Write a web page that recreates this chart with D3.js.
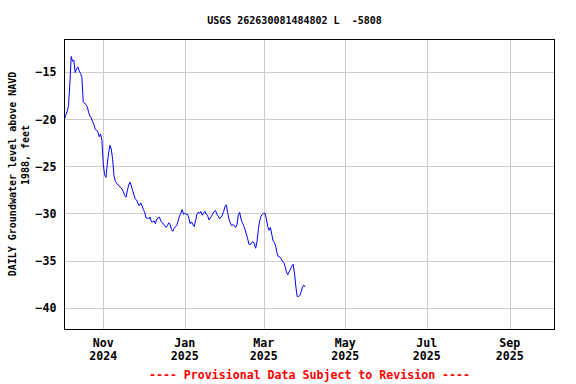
<!DOCTYPE html>
<html>
<head>
<meta charset="utf-8">
<script src="https://cdn.jsdelivr.net/npm/d3@7"></script>
<style>
  body { margin: 0; background: #fff; }
  svg text { font-family: "DejaVu Sans Mono", "Liberation Mono", monospace; font-weight: bold; white-space: pre; }
</style>
</head>
<body>
<div id="chart"></div>
<script>
// daily water level readings, first one on Oct 3 2024
var startDate = new Date(2024, 9, 3);
var levels = [
  -20.0, -19.6, -19.2, -18.6, -16.3, -13.4, -13.9, -13.8, -15.1, -14.7,
  -14.5, -14.9, -15.2, -15.6, -18.2, -18.3, -18.5, -18.7, -19.3, -19.7,
  -19.9, -20.3, -20.6, -21.1, -21.2, -21.4, -21.9, -21.6, -22.3, -24.8,
  -25.9, -26.2, -24.8, -23.6, -22.8, -23.2, -24.3, -26.0, -26.6, -26.8,
  -27.0, -27.1, -27.3, -27.4, -27.7, -28.1, -28.3, -27.6, -27.0, -26.7,
  -27.1, -27.6, -28.1, -28.5, -28.6, -29.0, -29.2, -28.9, -29.2, -29.6,
  -29.9, -30.5, -30.5, -30.6, -30.4, -30.9, -30.9, -30.8, -31.1, -30.6,
  -30.5, -30.4, -30.8, -31.0, -31.1, -31.3, -31.5, -31.3, -31.0, -31.2,
  -31.7, -31.9, -31.6, -31.4, -31.3, -30.8, -30.3, -30.0, -29.6, -30.1,
  -30.0, -30.1, -30.1, -30.5, -31.1, -30.9, -31.2, -31.4, -30.8, -30.1,
  -29.9, -30.0, -29.8, -30.2, -30.0, -29.8, -30.1, -30.2, -30.7, -30.5,
  -30.3, -30.0, -29.8, -29.7, -30.1, -30.3, -30.6, -30.4, -30.2, -29.8,
  -29.3, -29.1, -29.9, -30.6, -31.0, -31.3, -31.2, -31.3, -31.5, -31.2,
  -30.2, -29.9, -30.6, -31.0, -31.3, -31.7, -32.2, -32.7, -33.3, -33.3,
  -33.1, -33.0, -33.2, -33.7, -33.0, -31.7, -30.8, -30.3, -30.1, -30.0,
  -30.0, -30.6, -31.4, -31.8, -31.5, -32.2, -32.9, -33.1, -33.5, -34.2,
  -34.6, -34.6, -34.8, -35.1, -35.2, -35.6, -36.2, -36.5, -36.2, -35.9,
  -35.6, -35.4, -36.3, -37.7, -38.8, -38.8, -38.7, -38.3, -37.8, -37.6,
  -37.8
];

var yTicks = [-40, -35, -30, -25, -20, -15];
var yDomain = [-42.3, -11.6];
var xDomain = [new Date(2024, 9, 3), new Date(2025, 9, 4, 12)];

var titleText = "USGS 262630081484802 L  -5808";
var yLabelLines = ["DAILY Groundwater level above NAVD", "1988, feet"];
var noteText = "---- Provisional Data Subject to Revision ----";

var width = 576;
var height = 384;
var margin = { top: 39.5, right: 21.5, bottom: 54.5, left: 64.5 };

var data = levels.map(function(v, i) {
  return { date: d3.timeDay.offset(startDate, i), value: v };
});

var svg = d3.select("#chart")
  .append("svg")
  .attr("width", width)
  .attr("height", height);

var x = d3.scaleTime()
  .domain(xDomain)
  .range([margin.left, width - margin.right]);

var y = d3.scaleLinear()
  .domain(yDomain)
  .range([height - margin.bottom, margin.top]);

var monthTicks = d3.timeMonth.every(2).range(xDomain[0], xDomain[1]);

// grid lines
svg.append("g")
  .selectAll("line")
  .data(monthTicks)
  .enter().append("line")
  .attr("x1", function(d) { return Math.round(x(d)) + 0.5; })
  .attr("x2", function(d) { return Math.round(x(d)) + 0.5; })
  .attr("y1", margin.top)
  .attr("y2", height - margin.bottom)
  .attr("stroke", "#cccccc")
  .attr("stroke-width", 1);

svg.append("g")
  .selectAll("line")
  .data(yTicks)
  .enter().append("line")
  .attr("x1", margin.left)
  .attr("x2", width - margin.right)
  .attr("y1", function(d) { return Math.round(y(d)) + 0.5; })
  .attr("y2", function(d) { return Math.round(y(d)) + 0.5; })
  .attr("stroke", "#cccccc")
  .attr("stroke-width", 1);

// the water level line
var line = d3.line()
  .x(function(d) { return x(d.date); })
  .y(function(d) { return y(d.value); });

svg.append("path")
  .datum(data)
  .attr("d", line)
  .attr("fill", "none")
  .attr("stroke", "#0000ff")
  .attr("stroke-width", 1);

// plot frame
svg.append("rect")
  .attr("x", margin.left)
  .attr("y", margin.top)
  .attr("width", width - margin.left - margin.right)
  .attr("height", height - margin.top - margin.bottom)
  .attr("fill", "none")
  .attr("stroke", "#000")
  .attr("stroke-width", 1);

// y axis labels
var yAxis = svg.append("g")
  .attr("transform", "translate(" + (margin.left - 8) + ",0)")
  .call(d3.axisLeft(y).tickValues(yTicks).tickSize(0).tickPadding(0).tickFormat(d3.format("d")));
yAxis.select(".domain").remove();
yAxis.selectAll("text")
  .style("font-size", "11.6px")
  .attr("fill", "#000")
  .attr("dy", "0.36em");

// x axis labels, month over year
var fmtMonth = d3.timeFormat("%b");
var fmtYear = d3.timeFormat("%Y");
var xLabels = svg.append("g")
  .selectAll("text")
  .data(monthTicks)
  .enter().append("text")
  .attr("x", function(d) { return x(d); })
  .attr("y", 347)
  .style("text-anchor", "middle")
  .style("font-size", "11.6px");
xLabels.append("tspan").text(function(d) { return fmtMonth(d); });
xLabels.append("tspan")
  .attr("x", function(d) { return x(d); })
  .attr("dy", 13)
  .text(function(d) { return fmtYear(d); });

// title
svg.append("text")
  .attr("x", 294.5)
  .attr("y", 24)
  .attr("xml:space", "preserve")
  .style("text-anchor", "middle")
  .style("font-size", "10px")
  .text(titleText);

// y axis title, two lines
svg.append("text")
  .attr("transform", "translate(16,174) rotate(-90)")
  .style("text-anchor", "middle")
  .style("font-size", "10px")
  .text(yLabelLines[0]);
svg.append("text")
  .attr("transform", "translate(28.5,155) rotate(-90)")
  .style("text-anchor", "middle")
  .style("font-size", "10px")
  .text(yLabelLines[1]);

// provisional data note
svg.append("text")
  .attr("x", (margin.left + width - margin.right) / 2)
  .attr("y", 379)
  .style("text-anchor", "middle")
  .style("font-size", "11.6px")
  .style("fill", "#ff0000")
  .text(noteText);
</script>
</body>
</html>
